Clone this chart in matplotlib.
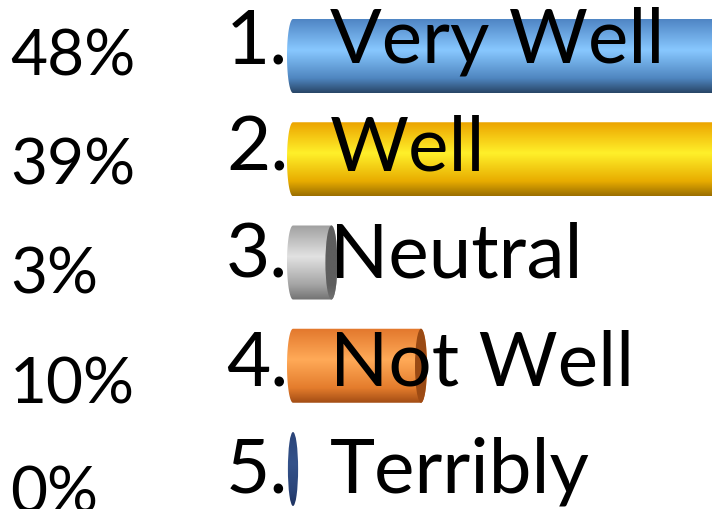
import matplotlib
matplotlib.use("Agg")
import matplotlib.pyplot as plt
from matplotlib.patches import Polygon, Ellipse
from matplotlib.colors import LinearSegmentedColormap
import numpy as np

categories = ["Very Well", "Well", "Neutral", "Not Well", "Terribly"]
values = [48, 39, 3, 10, 0]

# gradient stops per bar: top, light, lower, bottom, cap
colors = [
    ["#4f85c4", "#88c8ff", "#4f86c0", "#284566", "#3a6898"],
    ["#eca400", "#fff02a", "#e8ac00", "#9a6e00", "#b88a00"],
    ["#a0a0a0", "#e2e2e2", "#a4a4a4", "#727272", "#5e5e5e"],
    ["#e2772c", "#ffaa58", "#e47c2c", "#a24c14", "#9a4a14"],
    ["#2a4478", "#34528a", "#2a4478", "#1e3260", "#2a4478"],
]

W, H = 712, 510
PX_PER_PCT = 12.8
X0 = 293            # pixel of 0%
Y0, DY = 57, 103.25  # bar centre pixels
BAR_H = 74 / DY
CAP_W = 12 / PX_PER_PCT

fig = plt.figure(figsize=(W / 100, H / 100), dpi=100)
ax = fig.add_axes([0, 0, 1, 1])
ax.set_xlim(-X0 / PX_PER_PCT, (W - X0) / PX_PER_PCT)
ax.set_ylim((H - Y0) / DY, -Y0 / DY)
ax.axis("off")

t = np.linspace(np.pi / 2, 3 * np.pi / 2, 60)


def grad_image(ax, stops, extent, clip):
    cmap = LinearSegmentedColormap.from_list("g", list(zip([0, 0.42, 0.8, 1.0], stops)))
    g = np.linspace(0, 1, 256).reshape(-1, 1)
    im = ax.imshow(g, cmap=cmap, aspect="auto", extent=extent,
                   origin="upper", interpolation="bicubic", zorder=2)
    im.set_clip_path(clip)


for i, v in enumerate(values):
    c = colors[i]
    a, b = CAP_W / 2, BAR_H / 2
    top, bot = i - b, i + b
    if v == 0:
        el = Ellipse((0, i), CAP_W * 0.85, BAR_H, transform=ax.transData)
        grad_image(ax, c[:4], (-a, a, bot, top), el)
        continue
    left = np.column_stack([a * np.cos(t), i - b * np.sin(t)])
    right = np.column_stack([v - a * np.cos(t), i + b * np.sin(t)])
    poly = Polygon(np.vstack([left, right]), closed=True, transform=ax.transData)
    grad_image(ax, c[:4], (-a, v + a, bot, top), poly)
    cap = Ellipse((v, i), CAP_W, BAR_H, transform=ax.transData)
    cap_stops = [c[4], c[4], c[4], c[3]]
    grad_image(ax, cap_stops, (v - a, v + a, bot, top), cap)

font = "Lato"
for i, name in enumerate(categories):
    base = 1 - (63 + 107.5 * i) / H
    fig.text(226 / W, base, f"{i + 1}.",
             fontsize=55, family=font, ha="left", va="baseline", zorder=5)
    fig.text(330 / W, base, name,
             fontsize=55, family=font, ha="left", va="baseline", zorder=5)
    fig.text(10 / W, 1 - (75 + 109.5 * i) / H, f"{values[i]}%",
             fontsize=46, family=font, ha="left", va="baseline", zorder=5)

fig.savefig("out.png", dpi=100)
